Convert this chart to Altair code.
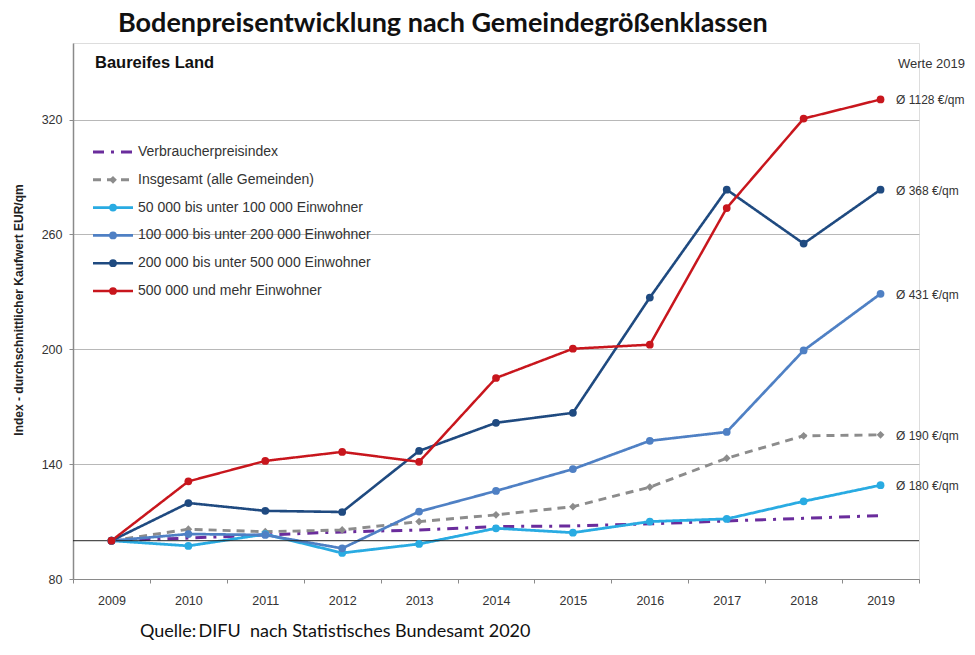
import altair as alt
import pandas as pd

years = list(range(2009, 2020))
series_names = [
    "Verbraucherpreisindex",
    "Insgesamt (alle Gemeinden)",
    "50 000 bis unter 100 000 Einwohner",
    "100 000 bis unter 200 000 Einwohner",
    "200 000 bis unter 500 000 Einwohner",
    "500 000 und mehr Einwohner",
]
cpi = [100, 101.4, 103.0, 104.6, 105.6, 107.4, 107.7, 108.8, 110.3, 111.7, 113.1]
total = [100, 106.0, 104.7, 105.6, 110.0, 113.5, 117.8, 128.0, 143.1, 154.8, 155.3]
s50 = [100, 97.3, 103.4, 93.6, 98.3, 106.5, 104.2, 110.0, 111.4, 120.6, 129.0]
s100 = [100, 103.5, 103.0, 96.0, 115.2, 126.0, 137.4, 152.2, 156.8, 199.4, 229.0]
s200 = [100, 119.7, 115.6, 115.0, 146.9, 161.6, 166.8, 227.0, 283.4, 255.2, 283.4]
s500 = [100, 131.0, 141.7, 146.4, 141.2, 185.0, 200.3, 202.4, 273.8, 320.5, 330.5]
label_series = [
    "500 000 und mehr Einwohner",
    "200 000 bis unter 500 000 Einwohner",
    "100 000 bis unter 200 000 Einwohner",
    "Insgesamt (alle Gemeinden)",
    "50 000 bis unter 100 000 Einwohner",
]
label_texts = ["Ø 1128 €/qm", "Ø 368 €/qm", "Ø 431 €/qm", "Ø 190 €/qm", "Ø 180 €/qm"]
y_ticks = [80, 140, 200, 260, 320]
ref_value = [100]

colors = ["#6a2c9c", "#8c8c8c", "#29abe2", "#4f80c4", "#1f4a80", "#c8161d"]
dashes = [[11, 7, 3, 7], [8, 6], [1, 0], [1, 0], [1, 0], [1, 0]]
widths = [3, 2.5, 1.6, 1.6, 1.6, 1.6]
shapes = ["circle", "diamond", "circle", "circle", "circle", "circle"]

all_vals = [cpi, total, s50, s100, s200, s500]
rows = []
for name, vals in zip(series_names, all_vals):
    for yr, v in zip(years, vals):
        rows.append({"year": str(yr), "value": v, "series": name})
df = pd.DataFrame(rows)
df_pts = df[df.series != series_names[0]]

last = {name: vals[-1] for name, vals in zip(series_names, all_vals)}
df_lab = pd.DataFrame({"series": label_series, "label": label_texts,
                       "value": [last[s] for s in label_series], "year": "2019"})

df_leg = pd.DataFrame({"series": series_names})
df_leg_pts = df_leg[df_leg.series != series_names[0]]

FONT = "Liberation Sans, Arial, sans-serif"

color = alt.Color("series:N", scale=alt.Scale(domain=series_names, range=colors), legend=None)
dash = alt.StrokeDash("series:N", scale=alt.Scale(domain=series_names, range=dashes), legend=None)
sw = alt.StrokeWidth("series:N", scale=alt.Scale(domain=series_names, range=widths), legend=None)
shape = alt.Shape("series:N", scale=alt.Scale(domain=series_names, range=shapes), legend=None)

x = alt.X("year:O", bandPosition=0.5,
          scale=alt.Scale(type="band", paddingInner=0, paddingOuter=0),
          axis=alt.Axis(title=None, labelAngle=0, tickBand="extent", grid=False,
                        domainColor="#8a8a8a", tickColor="#8a8a8a", tickSize=4,
                        labelPadding=11, labelFontSize=12.5, labelColor="#333333",
                        labelFont=FONT))
y_axis = alt.Axis(title=None, values=y_ticks, grid=True, gridColor="#b8b8b8",
                  domainColor="#8a8a8a", domainWidth=1.5, tickColor="#8a8a8a",
                  tickSize=4, labelPadding=7, labelFontSize=12.5,
                  labelColor="#333333", labelFont=FONT)
y_scale = alt.Scale(domain=[80, 360], nice=False, zero=False)
y = alt.Y("value:Q", scale=y_scale, axis=y_axis)

base = alt.Chart(df)
lines = base.mark_line().encode(x=x, y=y, color=color, strokeDash=dash, strokeWidth=sw,
                                order=alt.Order("year:O"))
ref = alt.Chart(pd.DataFrame({"value": ref_value})).mark_rule(
    color="#222222", strokeWidth=1).encode(y=y)
pts = alt.Chart(df_pts).mark_point(filled=True, opacity=1, size=60).encode(
    x=x, y=y, color=color, shape=shape)
labs = alt.Chart(df_lab).mark_text(align="left", baseline="middle", dy=1, fontSize=12,
                                   font=FONT, color="#333333").encode(
    x=alt.value(823), y=y, text="label:N")

leg_y = alt.Y("series:N", scale=alt.Scale(type="point", domain=series_names,
                                          range=[109, 248], padding=0), axis=None)
leg_lines = alt.Chart(df_leg).mark_rule().encode(
    x=alt.value(20), x2=alt.value(60), y=leg_y, color=color, strokeDash=dash, strokeWidth=sw)
leg_pts = alt.Chart(df_leg_pts).mark_point(filled=True, opacity=1, size=60).encode(
    x=alt.value(40), y=leg_y, color=color, shape=shape)
leg_txt = alt.Chart(df_leg).mark_text(align="left", baseline="middle", fontSize=14,
                                      font=FONT, color="#333333").encode(
    x=alt.value(65), y=leg_y, text="series:N")


def txt(t, xv, yv, **kw):
    return alt.Chart(pd.DataFrame({"t": [t]})).mark_text(**kw).encode(
        x=alt.value(xv), y=alt.value(yv), text="t:N")


title = txt("Bodenpreisentwicklung nach Gemeindegrößenklassen", 45, -11, align="left",
            baseline="alphabetic", font="Lato", fontWeight="bold", fontSize=27, color="#111111")
sub = txt("Baureifes Land", 22, 25, align="left", baseline="alphabetic", font=FONT,
          fontWeight="bold", fontSize=16.5, color="#111111")
werte = txt("Werte 2019", 825, 25, align="left", baseline="alphabetic", font=FONT,
            fontSize=13, color="#333333")
ytitle = txt("Index - durchschnittlicher Kaufwert EUR/qm", -54, 267, align="center",
             baseline="middle", angle=270, font="Liberation Sans Narrow, " + FONT,
             fontWeight="bold", fontSize=12, color="#222222")
quelle = txt("Quelle:\u2009DIFU\u00a0 nach Statistisches Bundesamt 2020", 67, 594,
             align="left", baseline="alphabetic", font="Lato", fontSize=18, color="#111111")

main = alt.layer(lines, ref, pts, labs)
legend = alt.layer(leg_lines, leg_pts, leg_txt)

chart = alt.layer(main, legend, title, sub, werte, ytitle, quelle).resolve_scale(
    y="independent").properties(
    width=846, height=536,
    autosize=alt.AutoSizeParams(type="none"),
    padding={"left": 65, "top": 35, "right": 48, "bottom": 64},
).configure_view(stroke=None).configure(background="white")

chart.save("out.html", embed_options={"renderer": "svg", "actions": False})
